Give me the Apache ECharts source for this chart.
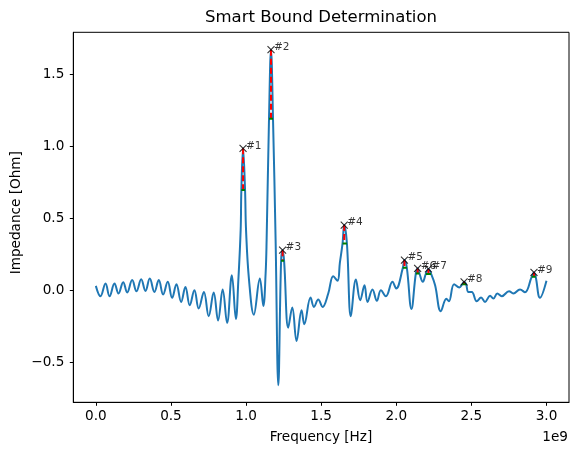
<!DOCTYPE html>
<html><head><meta charset="utf-8">
<script src="https://cdn.jsdelivr.net/npm/echarts@6/dist/echarts.min.js"></script>
<style>html,body{margin:0;padding:0;background:#fff}#c{width:578px;height:455px}</style>
</head><body><div id="c"></div>
<script>
// Frequency in units of 1e9 Hz
var freq = [0, 0.031, 0.0645, 0.0911, 0.1243, 0.1509, 0.1822, 0.2088, 0.242, 0.2706, 0.3019, 0.3305, 0.359, 0.3903, 0.4189, 0.4481, 0.4787, 0.508, 0.5366, 0.5678, 0.5964, 0.625, 0.6562, 0.6848, 0.7194, 0.7513, 0.7846, 0.8138, 0.8444, 0.8737, 0.9056, 0.9322, 0.9488, 0.9641, 0.9688, 0.9801, 0.9934, 1.0, 1.0199, 1.0519, 1.0918, 1.115, 1.1303, 1.137, 1.1529, 1.1662, 1.1795, 1.1968, 1.2148, 1.2334, 1.2434, 1.2533, 1.2812, 1.3078, 1.3364, 1.3697, 1.3876, 1.4295, 1.4521, 1.4807, 1.5093, 1.5472, 1.5805, 1.609, 1.6245, 1.6425, 1.6536, 1.6715, 1.6981, 1.7314, 1.76, 1.7886, 1.8085, 1.8418, 1.871, 1.8976, 1.9309, 1.9747, 1.9993, 2.0439, 2.0545, 2.0705, 2.1011, 2.1303, 2.1423, 2.1543, 2.1769, 2.1968, 2.2141, 2.232, 2.2586, 2.2965, 2.3338, 2.3504, 2.385, 2.4202, 2.4402, 2.4515, 2.4648, 2.4801, 2.5027, 2.5359, 2.5645, 2.5911, 2.6243, 2.6463, 2.6729, 2.7021, 2.7507, 2.7793, 2.8238, 2.857, 2.9016, 2.9169, 2.9282, 2.9568, 3.0];
var impedance = [0.03, -0.042, 0.046, -0.042, 0.046, -0.023, 0.056, -0.016, 0.07, -0.007, 0.076, -0.005, 0.081, -0.012, 0.07, -0.03, 0.058, -0.053, 0.042, -0.081, 0.023, -0.104, 0.0, -0.127, -0.012, -0.18, -0.016, -0.21, 0.005, -0.227, 0.104, -0.2, 0.07, 0.417, 0.695, 0.985, 0.695, 0.417, 0.07, -0.17, 0.082, -0.11, 0.116, 0.348, 1.19, 1.669, 1.19, 0.348, -0.66, 0.204, 0.278, 0.204, -0.26, -0.12, -0.352, -0.139, -0.236, -0.051, -0.116, -0.065, -0.116, -0.023, 0.097, 0.065, 0.19, 0.325, 0.452, 0.325, -0.181, 0.074, -0.07, 0.035, -0.081, 0.005, -0.074, 0.0, -0.042, 0.058, 0.012, 0.155, 0.209, 0.155, -0.13, 0.116, 0.151, 0.116, 0.058, 0.113, 0.148, 0.113, 0.035, -0.146, -0.06, -0.077, 0.042, 0.019, 0.042, 0.058, 0.042, -0.012, -0.012, -0.077, -0.051, -0.081, -0.039, -0.058, -0.023, -0.042, -0.007, -0.023, 0.005, -0.014, 0.093, 0.123, 0.093, -0.053, 0.065];

var peakLabels = ['#1', '#2', '#3', '#4', '#5', '#6', '#7', '#8', '#9'];
var peakFreq   = [0.9801, 1.1662, 1.2434, 1.6536, 2.0545, 2.1423, 2.2141, 2.4515, 2.9169];
var peakValue  = [0.985, 1.669, 0.278, 0.452, 0.209, 0.151, 0.148, 0.058, 0.123];
var boundValue = [0.695, 1.19, 0.204, 0.325, 0.155, 0.116, 0.113, 0.042, 0.093];
var boundLeft  = [0.9688, 1.1529, 1.2334, 1.6425, 2.0439, 2.1303, 2.1968, 2.4402, 2.9016];
var boundRight = [0.9934, 1.1795, 1.2533, 1.6715, 2.0705, 2.1543, 2.232, 2.4648, 2.9282];

var xTicks = [0, 0.5, 1.0, 1.5, 2.0, 2.5, 3.0];
var yTicks = [-0.5, 0, 0.5, 1.0, 1.5];

var FONT = 'DejaVu Sans';
var chart = echarts.init(document.getElementById('c'), null, {renderer: 'canvas'});

var series = [{
  type: 'line',
  data: freq.map(function (f, i) { return [f, impedance[i]]; }),
  smooth: 0.4,
  showSymbol: false,
  lineStyle: {color: '#1f77b4', width: 2},
  z: 2,
  animation: false
}];
peakFreq.forEach(function (f, i) {
  series.push({
    type: 'line', data: [[f, peakValue[i]], [f, boundValue[i]]],
    showSymbol: false, lineStyle: {color: '#ff0000', width: 2, type: [6, 3]}, z: 3, animation: false
  });
  series.push({
    type: 'line', data: [[boundLeft[i], boundValue[i]], [boundRight[i], boundValue[i]]],
    showSymbol: false, lineStyle: {color: '#008000', width: 2}, z: 3, animation: false
  });
});
series.push({
  type: 'scatter',
  data: peakFreq.map(function (f, i) { return [f, peakValue[i], peakLabels[i]]; }),
  symbol: 'path://M0,0L10,10M10,0L0,10',
  symbolSize: 7,
  itemStyle: {color: 'none', borderColor: '#000', borderWidth: 1.1},
  label: {
    show: true, position: 'right', distance: -3,
    formatter: function (p) { return p.data[2]; },
    fontFamily: FONT, fontSize: 10.5, color: '#000',
    verticalAlign: 'bottom', offset: [0, 3]
  },
  z: 5, animation: false
});

chart.setOption({
  animation: false,
  grid: {left: 73.3, right: 9, top: 32.3, bottom: 52.7, show: true, borderColor: '#000', borderWidth: 1, backgroundColor: 'transparent'},
  xAxis: {
    type: 'value', min: -0.15, max: 3.15,
    axisLine: {show: true, onZero: false, lineStyle: {color: '#000', width: 1}},
    splitLine: {show: false},
    axisTick: {show: true, length: 3.5, lineStyle: {color: '#000'}, customValues: xTicks},
    axisLabel: {customValues: xTicks, formatter: function (v) { return v.toFixed(1); },
      fontFamily: FONT, fontSize: 13.6, color: '#000', margin: 7}
  },
  yAxis: {
    type: 'value', min: -0.778, max: 1.79,
    axisLine: {show: true, onZero: false, lineStyle: {color: '#000', width: 1}},
    splitLine: {show: false},
    axisTick: {show: true, length: 3.5, lineStyle: {color: '#000'}, customValues: yTicks},
    axisLabel: {customValues: yTicks, formatter: function (v) { return (v < 0 ? '\u2212' : '') + Math.abs(v).toFixed(1); },
      fontFamily: FONT, fontSize: 13.6, color: '#000', margin: 9}
  },
  graphic: [
    {type: 'text', x: 321, y: 18, style: {text: 'Smart Bound Determination', font: '16.5px "DejaVu Sans"', fill: '#000', textAlign: 'center', textVerticalAlign: 'middle'}},
    {type: 'text', x: 321, y: 437, style: {text: 'Frequency [Hz]', font: '13.6px "DejaVu Sans"', fill: '#000', textAlign: 'center', textVerticalAlign: 'middle'}},
    {type: 'text', x: 568, y: 437, style: {text: '1e9', font: '13.6px "DejaVu Sans"', fill: '#000', textAlign: 'right', textVerticalAlign: 'middle'}},
    {type: 'text', x: 16, y: 212.7, rotation: Math.PI / 2, style: {text: 'Impedance [Ohm]', font: '13.6px "DejaVu Sans"', fill: '#000', textAlign: 'center', textVerticalAlign: 'middle'}}
  ],
  series: series
});
</script>
</body></html>
